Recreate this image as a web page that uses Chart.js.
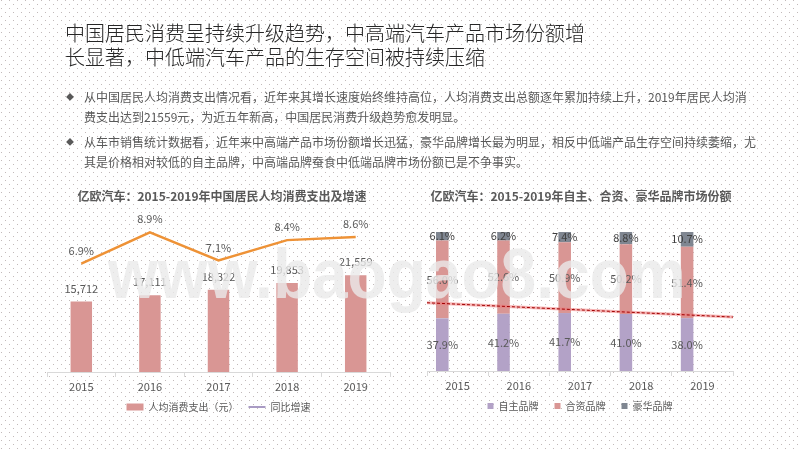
<!DOCTYPE html>
<html>
<head>
<meta charset="utf-8">
<script src="https://cdn.jsdelivr.net/npm/chart.js@4.4.1/dist/chart.umd.min.js"></script>
<style>
  html, body { margin: 0; padding: 0; }
  body { width: 800px; height: 450px; position: relative; overflow: hidden; background: #fff;
         font-family: "Noto Sans CJK SC", sans-serif; }
  #dots { position: absolute; left: 0; top: 0; }
  .abs { position: absolute; white-space: nowrap; }
  #title { left: 65px; top: 21px; font-size: 20px; line-height: 24px; color: #262626; font-weight: 300; }
  .bullet { left: 84px; font-size: 12px; line-height: 20px; color: #595959; }
  .diamond { left: 66px; font-size: 8px; line-height: 20px; color: #595959; }
  .ctitle { font-size: 12px; font-weight: bold; color: #595959; transform: translateX(-50%); line-height: 18px; }
  canvas { position: absolute; }
  #mark { left: 108px; top: 239px; font-family: "Liberation Sans", Arial, sans-serif; font-weight: bold;
          font-size: 70px; line-height: 70px; color: rgba(234, 234, 234, 0.8);
          transform: scaleX(0.915); transform-origin: 0 0; pointer-events: none; }
</style>
</head>
<body>
<canvas id="dots" width="800" height="450"></canvas>

<div id="title" class="abs">中国居民消费呈持续升级趋势，中高端汽车产品市场份额增<br>长显著，中低端汽车产品的生存空间被持续压缩</div>

<div class="abs diamond" style="top:87px">◆</div>
<div class="abs bullet" style="top:87px">从中国居民人均消费支出情况看，近年来其增长速度始终维持高位，人均消费支出总额逐年累加持续上升，2019年居民人均消<br>费支出达到21559元，为近五年新高，中国居民消费升级趋势愈发明显。</div>
<div class="abs diamond" style="top:132px">◆</div>
<div class="abs bullet" style="top:132px">从车市销售统计数据看，近年来中高端产品市场份额增长迅猛，豪华品牌增长最为明显，相反中低端产品生存空间持续萎缩，尤<br>其是价格相对较低的自主品牌，中高端品牌蚕食中低端品牌市场份额已是不争事实。</div>

<div class="abs ctitle" style="left:222px; top:187px">亿欧汽车：2015-2019年中国居民人均消费支出及增速</div>
<div class="abs ctitle" style="left:581px; top:187px">亿欧汽车：2015-2019年自主、合资、豪华品牌市场份额</div>

<canvas id="leftChart" width="390" height="227" style="left:20px; top:205px; width:390px; height:227px"></canvas>
<canvas id="rightChart" width="370" height="227" style="left:410px; top:205px; width:370px; height:227px"></canvas>

<div id="mark" class="abs">www.baogao8.com</div>

<script>
// 数据
const years = ['2015', '2016', '2017', '2018', '2019'];
const spending = [15712, 17111, 18322, 19853, 21559];
const growth = [6.9, 8.9, 7.1, 8.4, 8.6];

const ownBrand = [37.9, 41.2, 41.7, 41.0, 38.0];
const jointBrand = [56.0, 52.6, 50.9, 50.2, 51.4];
const luxuryBrand = [6.1, 6.2, 7.4, 8.8, 10.7];
// 趋势线两端（左右边缘处的份额值）
const trendEnds = [49.1, 38.8];

// 背景点阵
const bg = document.getElementById('dots').getContext('2d');
bg.fillStyle = '#c2baba';
for (let y = 0; y < 450; y += 4) {
  const off = (y / 4) % 2 === 0 ? 1 : 5;
  for (let x = off; x < 800; x += 8) bg.fillRect(x, y, 1, 1);
}

Chart.defaults.font.family = '"Noto Sans CJK SC", sans-serif';
Chart.defaults.color = '#595959';

// 数据标签
const valueLabels = {
  id: 'valueLabels',
  afterDatasetsDraw(chart) {
    const ctx = chart.ctx;
    ctx.save();
    ctx.font = '11px "Noto Sans CJK SC", sans-serif';
    ctx.textAlign = 'center';
    ctx.textBaseline = 'middle';
    chart.data.datasets.forEach((ds, i) => {
      if (!ds.labelMode) return;
      ctx.fillStyle = ds.labelColor || '#595959';
      chart.getDatasetMeta(i).data.forEach((el, j) => {
        const v = ds.data[j];
        if (ds.labelMode === 'above') ctx.fillText(v.toLocaleString('en-US'), el.x, el.y - 13);
        else if (ds.labelMode === 'point') ctx.fillText(v.toFixed(1) + '%', el.x, el.y - 13);
        else ctx.fillText(v.toFixed(1) + '%', el.x, (el.y + el.base) / 2);
      });
    });
    ctx.restore();
  }
};

// 图例上移，贴近坐标轴
const legendShift = {
  id: 'legendShift',
  afterLayout(chart, args, opts) {
    chart.legend.top += opts.dy;
    chart.legend.bottom += opts.dy;
  }
};

const xAxis = () => ({
  offset: true,
  grid: { drawOnChartArea: false, offset: true, tickLength: 5, color: '#d9d9d9' },
  border: { color: '#d9d9d9' },
  ticks: { color: '#595959', font: { size: 11 }, padding: 3 },
  afterFit(scale) { scale.height = 24; }
});

// 左图：人均消费支出及增速
new Chart(document.getElementById('leftChart'), {
  data: {
    labels: years,
    datasets: [
      {
        type: 'bar', label: '人均消费支出（元）', data: spending,
        backgroundColor: '#D99694', barPercentage: 0.313, categoryPercentage: 1,
        yAxisID: 'y', labelMode: 'above', pointStyle: 'rect'
      },
      {
        type: 'line', label: '同比增速', data: growth,
        borderColor: '#EE9236', borderWidth: 2.5, pointRadius: 0, tension: 0,
        yAxisID: 'y2', labelMode: 'point', pointStyle: 'line'
      }
    ]
  },
  options: {
    responsive: false,
    animation: false,
    layout: { padding: { left: 27, right: 20, top: 10, bottom: 6 } },
    scales: {
      x: xAxis(),
      y: { display: false, min: 0, max: 35000 },
      y2: { display: false, min: 0, max: 10 }
    },
    plugins: {
      tooltip: { enabled: false },
      legendShift: { dy: -4 },
      legend: {
        position: 'bottom',
        labels: {
          usePointStyle: true, pointStyleWidth: 17, boxHeight: 7,
          font: { size: 10 }, color: '#595959', padding: 10,
          generateLabels(chart) {
            const items = Chart.defaults.plugins.legend.labels.generateLabels(chart);
            items.forEach(it => { if (it.datasetIndex === 1) { it.strokeStyle = '#A99BC4'; it.lineWidth = 2; } });
            return items;
          },
          sort: (a, b) => a.datasetIndex - b.datasetIndex
        }
      }
    }
  },
  plugins: [valueLabels, legendShift]
});

// 右图：自主、合资、豪华品牌市场份额
const trendPoints = [{ x: -0.5, y: trendEnds[0] }, { x: 4.5, y: trendEnds[1] }];

new Chart(document.getElementById('rightChart'), {
  data: {
    labels: years,
    datasets: [
      { type: 'bar', label: '自主品牌', data: ownBrand, backgroundColor: '#B3A2C7', labelMode: 'center' },
      { type: 'bar', label: '合资品牌', data: jointBrand, backgroundColor: '#D99694', labelMode: 'center' },
      { type: 'bar', label: '豪华品牌', data: luxuryBrand, backgroundColor: '#7F8691', labelMode: 'center', labelColor: '#3f3f3f' },
      {
        type: 'line', label: 'trend-glow', data: trendPoints, xAxisID: 'xt', yAxisID: 'yt',
        borderColor: 'rgba(240, 120, 120, 0.55)', borderWidth: 3, pointRadius: 0, order: -1
      },
      {
        type: 'line', label: 'trend', data: trendPoints, xAxisID: 'xt', yAxisID: 'yt',
        borderColor: '#A00000', borderWidth: 1, borderDash: [3, 2], pointRadius: 0, order: -2
      }
    ].map(ds => ds.type === 'bar' ? Object.assign(ds, { barPercentage: 0.41, categoryPercentage: 1 }) : ds)
  },
  options: {
    responsive: false,
    animation: false,
    layout: { padding: { left: 17, right: 47, top: 27, bottom: 1 } },
    scales: {
      x: Object.assign(xAxis(), { stacked: true }),
      y: { display: false, stacked: true, min: 0, max: 100 },
      xt: { type: 'linear', display: false, min: -0.5, max: 4.5 },
      yt: { display: false, min: 0, max: 100 }
    },
    plugins: {
      tooltip: { enabled: false },
      legendShift: { dy: -10 },
      legend: {
        position: 'bottom',
        labels: {
          boxWidth: 6, boxHeight: 6, font: { size: 10 }, color: '#595959', padding: 16,
          filter: item => item.datasetIndex < 3
        }
      }
    }
  },
  plugins: [valueLabels, legendShift]
});
</script>
</body>
</html>
